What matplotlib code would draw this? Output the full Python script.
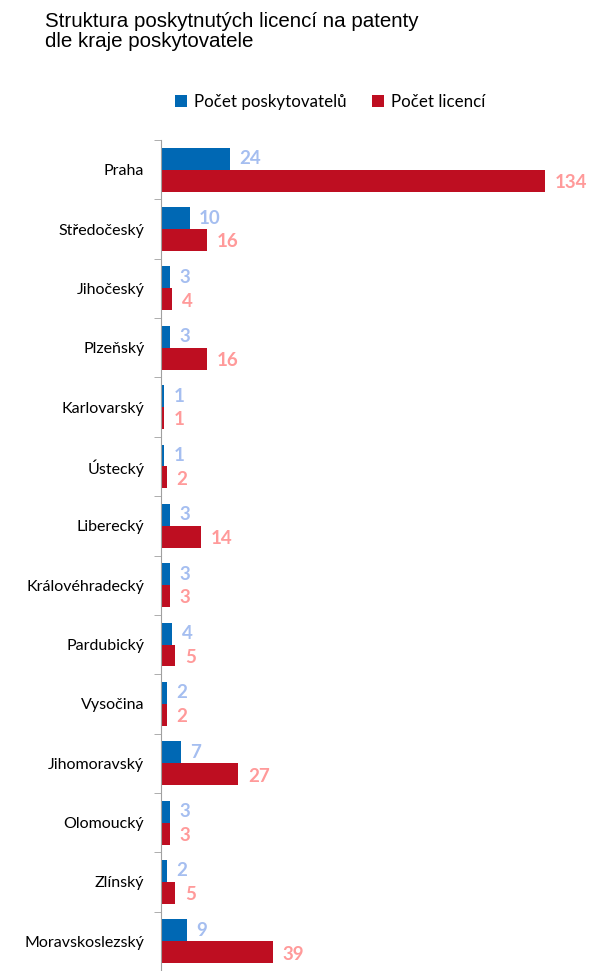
import matplotlib.pyplot as plt
import numpy as np

kraje = ["Praha", "Středočeský", "Jihočeský", "Plzeňský", "Karlovarský", "Ústecký",
         "Liberecký", "Královéhradecký", "Pardubický", "Vysočina", "Jihomoravský",
         "Olomoucký", "Zlínský", "Moravskoslezský"]
poskytovatele = [24, 10, 3, 3, 1, 1, 3, 3, 4, 2, 7, 3, 2, 9]
licence = [134, 16, 4, 16, 1, 2, 14, 3, 5, 2, 27, 3, 5, 39]

plt.rcParams['font.family'] = ['Lato', 'DejaVu Sans']

fig = plt.figure(figsize=(5.91, 9.71), dpi=100)
ax = fig.add_axes([161/591, 0, 1 - 161/591, 1 - 140/971])

y = np.arange(len(kraje))
h = 0.37
b1 = ax.barh(y - h/2, poskytovatele, height=h, color="#0068B4", label="Počet poskytovatelů")
b2 = ax.barh(y + h/2, licence, height=h, color="#BE0E21", label="Počet licencí")

for rect, v in zip(b1, poskytovatele):
    ax.text(rect.get_width() + 3.3, rect.get_y() + rect.get_height()/2, str(v),
            va="center", ha="left", fontsize=13.5, fontweight="bold", color="#A5BEF0")
for rect, v in zip(b2, licence):
    ax.text(rect.get_width() + 3.3, rect.get_y() + rect.get_height()/2 + 0.03, str(v),
            va="center", ha="left", fontsize=13.5, fontweight="bold", color="#FF9A9A")

ax.set_ylim(len(kraje) - 0.5, -0.5)
ax.set_xlim(0, 150)
ax.set_yticks(y)
ax.set_yticklabels(kraje, fontsize=11.5)
ax.set_yticks(np.arange(len(kraje) + 1) - 0.5, minor=True)
ax.tick_params(axis="y", which="major", length=0, pad=12)
ax.tick_params(axis="y", which="minor", length=5, color="#A0A0A0", direction="out")
ax.set_xticks([])
for s in ["top", "right", "bottom"]:
    ax.spines[s].set_visible(False)
ax.spines["left"].set_color("#A0A0A0")

fig.text(45/591, 1 - 12/971, "Struktura poskytnutých licencí na patenty\ndle kraje poskytovatele",
         fontsize=14.8, family="Liberation Sans", va="top", ha="left", linespacing=1.05)
fig.legend(handles=[b1, b2], loc="center", bbox_to_anchor=(330/591, 1 - 102/971), ncol=2,
           frameon=False, fontsize=12.2, handlelength=0.7, handleheight=0.7,
           handletextpad=0.4, columnspacing=1.5)

fig.savefig("out.png", dpi=100)
